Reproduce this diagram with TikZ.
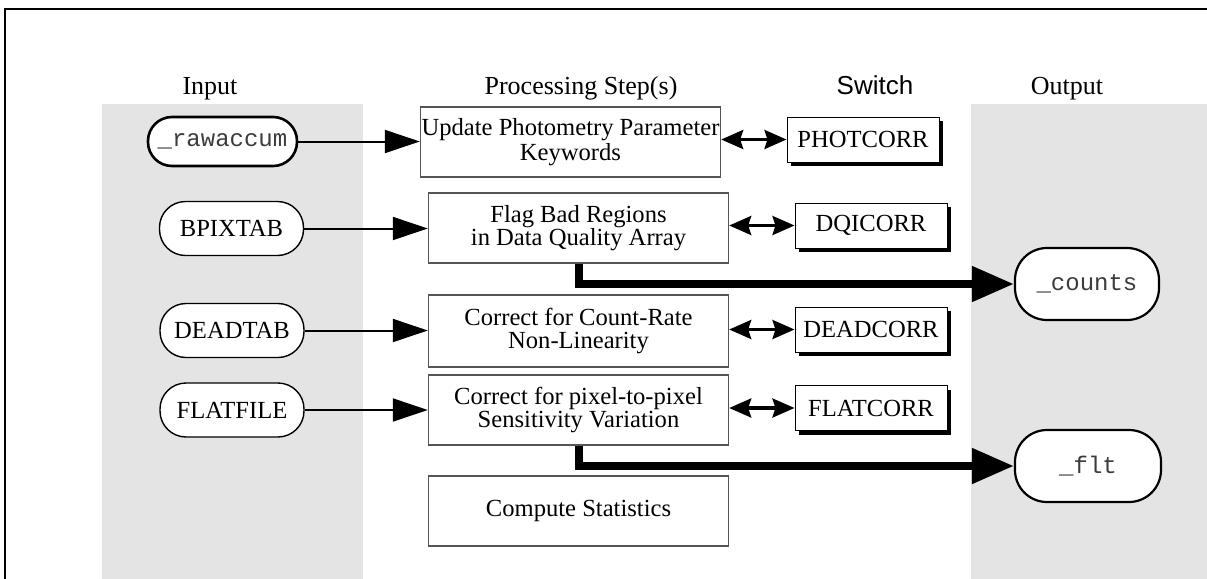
\documentclass[tikz,border=0pt]{standalone}
\usepackage{fontspec}
\setmainfont{Liberation Serif}
\setsansfont{Liberation Sans}
\setmonofont{Liberation Mono}
\usetikzlibrary{arrows.meta,shadows}
\definecolor{panelgray}{RGB}{228,228,228}
\definecolor{boxline}{RGB}{85,85,85}
\definecolor{monotext}{RGB}{60,60,60}
\begin{document}
\begin{tikzpicture}[x=0.5pt,y=-0.5pt,
  header/.style={anchor=base,font=\fontsize{13}{15}\selectfont},
  infile/.style={draw,fill=white,line width=0.7pt,rounded corners=13pt,
    minimum width=72pt,minimum height=27pt,inner sep=0pt,
    font=\fontsize{12.3}{14}\selectfont},
  datafile/.style={draw,fill=white,line width=1.1pt,rounded corners=16pt,
    minimum width=72pt,minimum height=36pt,inner sep=0pt,text=monotext,
    font=\ttfamily\fontsize{12}{14}\selectfont},
  procbox/.style={draw=boxline,fill=white,line width=0.7pt,
    minimum width=150pt,minimum height=35pt,inner sep=0pt,align=center,
    font=\fontsize{12.3}{11.5}\selectfont},
  switchbox/.style={draw,fill=white,line width=0.5pt,
    minimum width=76pt,minimum height=22.5pt,inner sep=0pt,
    font=\fontsize{12.3}{14}\selectfont,
    drop shadow={shadow xshift=2.2pt,shadow yshift=-2.2pt,fill=black,opacity=1}},
  inarrow/.style={line width=1pt,-{Triangle[length=17.5pt,width=11.5pt]}},
  dblarrow/.style={line width=1.6pt,
    {Stealth[length=11pt,width=9.5pt,inset=1.5pt]}-{Stealth[length=11pt,width=9.5pt,inset=1.5pt]}},
  fatarrow/.style={line width=4pt,-{Triangle[length=21pt,width=17pt]}}
]
\useasboundingbox (0,0) rectangle (1207,579);

% shaded input and output columns
\fill[panelgray] (102,104) rectangle (363,579);
\fill[panelgray] (971,104) rectangle (1207,579);

% outer frame (top and left sides)
\draw[line width=1pt] (5,579) -- (5,9) -- (1207,9);

% column headings
\node[header] (hin)   at (210,94)  {Input};
\node[header] (hproc) at (581,94)  {Processing Step(s)};
\node[header,font=\sffamily\fontsize{13}{15}\selectfont] (hsw) at (875,94) {Switch};
\node[header] (hout)  at (1067,94) {Output};

% input files and tables
\node[infile,line width=1.3pt,minimum width=74.5pt,minimum height=24.5pt,rounded corners=12pt,
      text=monotext,font=\ttfamily\fontsize{12}{14}\selectfont]
      (rawaccum) at (222.5,141.5) {\_rawaccum};
\node[infile] (bpixtab)  at (231.5,228.5) {BPIXTAB};
\node[infile] (deadtab)  at (232,330.5)   {DEADTAB};
\node[infile] (flatfile) at (232,410)     {FLATFILE};

% processing steps
\node[procbox,font=\fontsize{12.3}{9}\selectfont] (update) at (570.5,142)
      {Update Photometry Parameter\\Keywords};
\node[procbox] (flag)    at (578.5,228) {Flag Bad Regions\\in Data Quality Array};
\node[procbox,minimum height=36pt] (count) at (578.5,331) {Correct for Count-Rate\\Non-Linearity};
\node[procbox] (pixel)   at (578.5,410) {Correct for pixel-to-pixel\\Sensitivity Variation};
\node[procbox] (compute) at (578.5,511) {Compute Statistics};

% calibration switches
\node[switchbox] (photcorr) at (863,139.5) {PHOTCORR};
\node[switchbox] (dqicorr)  at (871,225.5) {DQICORR};
\node[switchbox] (deadcorr) at (871,329.5) {DEADCORR};
\node[switchbox] (flatcorr) at (871,408)   {FLATCORR};

% output products
\node[datafile] (counts) at (1087,284) {\_counts};
\node[datafile,minimum width=73pt] (flt) at (1088,466) {\_flt};

% inputs feeding the steps
\draw[inarrow] (rawaccum.east) -- (rawaccum.east -| update.west);
\draw[inarrow] (bpixtab.east)  -- (bpixtab.east -| flag.west);
\draw[inarrow] (deadtab.east)  -- (deadtab.east -| count.west);
\draw[inarrow] (flatfile.east) -- (flatfile.east -| pixel.west);

% steps and their switches
\draw[dblarrow] (update.east |- photcorr.west) -- (photcorr.west);
\draw[dblarrow] (flag.east |- dqicorr.west)    -- (dqicorr.west);
\draw[dblarrow] (count.east |- deadcorr.west)  -- (deadcorr.west);
\draw[dblarrow] (pixel.east |- flatcorr.west)  -- (flatcorr.west);

% products written out
\draw[fatarrow] (flag.south)  |- (counts.west);
\draw[fatarrow] (pixel.south) |- (flt.west);
\end{tikzpicture}
\end{document}
